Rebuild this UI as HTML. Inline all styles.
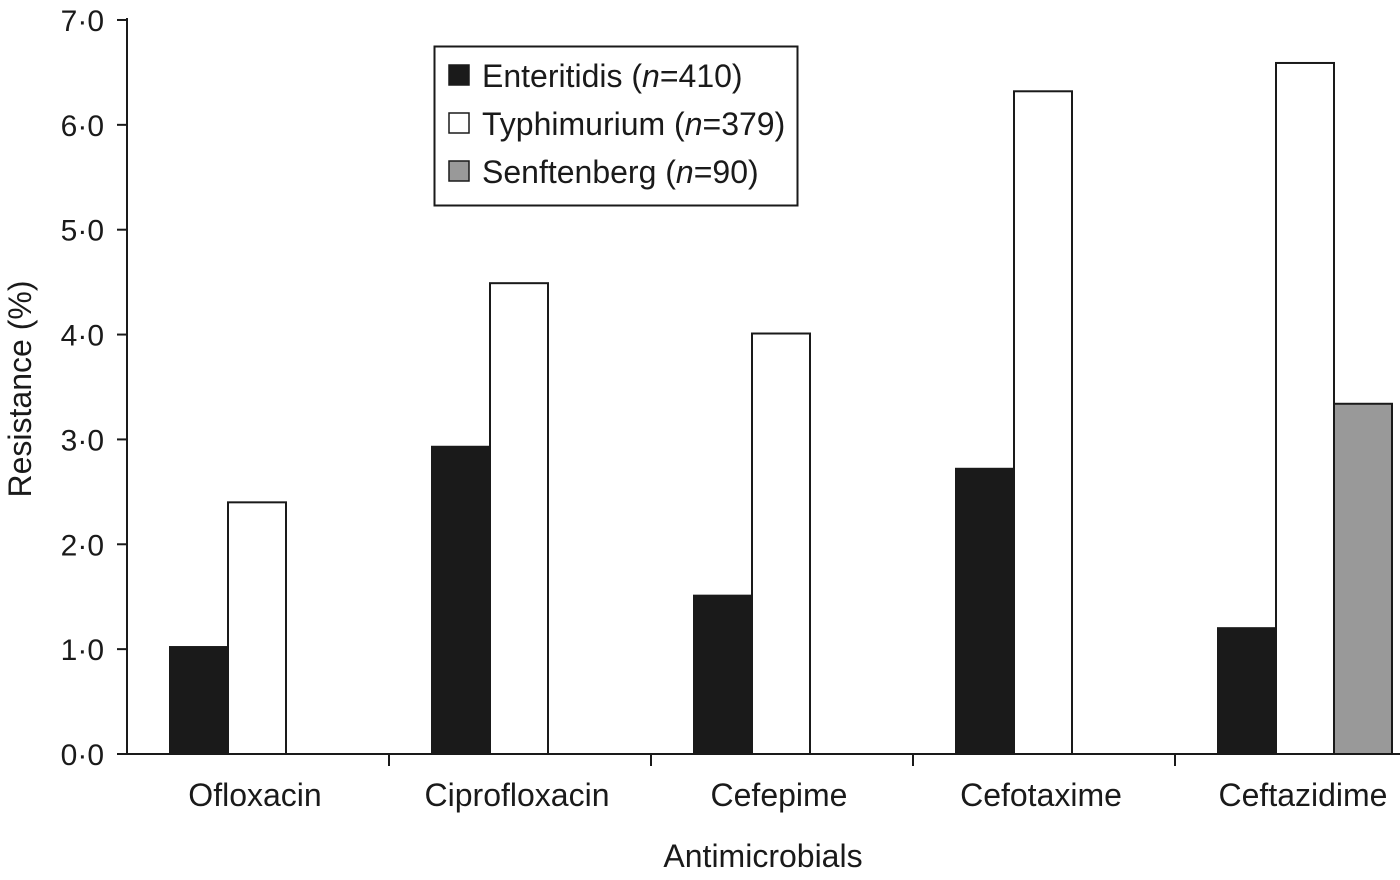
<!DOCTYPE html>
<html><head><meta charset="utf-8"><style>
html,body{margin:0;padding:0;background:#fff;}
svg text{font-family:"Liberation Sans",Arial,sans-serif;fill:#1a1a1a;}
</style></head><body>
<svg id="chart" width="1400" height="875" viewBox="0 0 1400 875">
<g id="axes"></g><g id="bars"></g>
<g>
<rect x="434.5" y="46.5" width="363" height="159" fill="#fff" stroke="#1a1a1a" stroke-width="2"/>
<rect x="449" y="65" width="20" height="20" fill="#1a1a1a" stroke="#1a1a1a" stroke-width="1.5"/>
<text x="482" y="87" font-size="32">Enteritidis (<tspan font-style="italic">n</tspan>=410)</text>
<rect x="449" y="113" width="20" height="20" fill="#fff" stroke="#1a1a1a" stroke-width="1.5"/>
<text x="482" y="135" font-size="32">Typhimurium (<tspan font-style="italic">n</tspan>=379)</text>
<rect x="449" y="161" width="20" height="20" fill="#999" stroke="#1a1a1a" stroke-width="1.5"/>
<text x="482" y="183" font-size="32">Senftenberg (<tspan font-style="italic">n</tspan>=90)</text>
</g>
</svg>
<script>
const categories=["Ofloxacin","Ciprofloxacin","Cefepime","Cefotaxime","Ceftazidime"];
const enteritidis=[1.02,2.93,1.51,2.72,1.20];
const typhimurium=[2.40,4.49,4.01,6.32,6.59];
const senftenberg=[0,0,0,0,3.34];
const yTicks=["0·0","1·0","2·0","3·0","4·0","5·0","6·0","7·0"];
const NS="http://www.w3.org/2000/svg";
const x0=127,groupW=262,y0=754,yUnit=104.86,barW=58,off=43;
const y=v=>y0-v*yUnit;
const gx=i=>x0+i*groupW;
const axes=document.getElementById('axes'),bars=document.getElementById('bars');
function mk(tag,attrs,parent){const e=document.createElementNS(NS,tag);for(const k in attrs)e.setAttribute(k,attrs[k]);parent.appendChild(e);return e;}
let l=mk('line',{x1:x0,y1:18,x2:x0,y2:y0+1,stroke:'#1a1a1a','stroke-width':2},axes);


l=mk('line',{x1:x0-1,y1:y0,x2:1400,y2:y0,stroke:'#1a1a1a','stroke-width':2},axes);


yTicks.forEach((t,i)=>{
 const tk=mk('line',{x1:x0-10,y1:y(i),x2:x0,y2:y(i),stroke:'#1a1a1a','stroke-width':2},axes);
 
 
 const tx=mk('text',{x:104,y:y(i)+11,'font-size':30,'text-anchor':'end'},axes);tx.textContent=t;
 
 
});
categories.forEach((c,i)=>{
 if(i>0){const tk=mk('line',{x1:gx(i),y1:y0,x2:gx(i),y2:y0+12,stroke:'#1a1a1a','stroke-width':2},axes);
 
 }
 const tx=mk('text',{x:gx(i)+off+barW*1.5-2,y:806,'font-size':32,'text-anchor':'middle'},axes);tx.textContent=c;
 
 
 [[enteritidis,'#1a1a1a','enteritidis'],[typhimurium,'#fff','typhimurium'],[senftenberg,'#999','senftenberg']].forEach((s,j)=>{
  const v=s[0][i];if(!v)return;
  const r=mk('rect',{x:gx(i)+off+j*barW,y:y(v),width:barW,height:v*yUnit,fill:s[1],stroke:'#1a1a1a','stroke-width':2},bars);
  
  
 });
});
let t=mk('text',{x:763,y:867,'font-size':32,'text-anchor':'middle'},axes);t.textContent="Antimicrobials";


t=mk('text',{x:0,y:0,'font-size':32,'text-anchor':'middle',transform:'translate(31,389) rotate(-90)'},axes);t.textContent="Resistance (%)";


</script>
</body></html>
